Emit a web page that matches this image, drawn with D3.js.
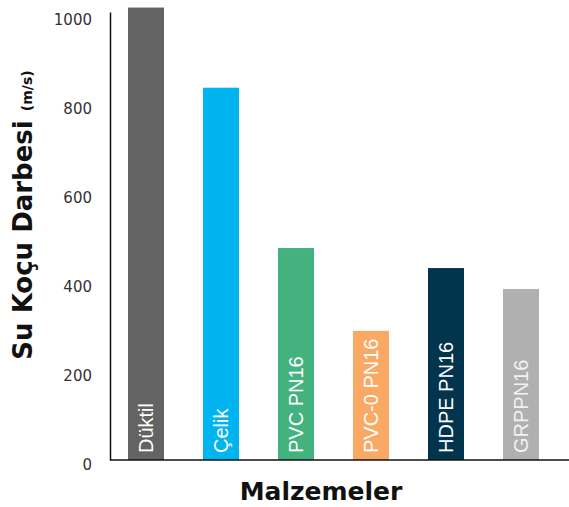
<!DOCTYPE html>
<html>
<head>
<meta charset="utf-8">
<script src="https://cdn.jsdelivr.net/npm/d3@7"></script>
<style>
  html, body { margin: 0; padding: 0; background: #fff; }
  svg { display: block; }
</style>
</head>
<body>
<svg id="chart" width="569" height="507"></svg>
<script>
const categories = ["Düktil", "Çelik", "PVC PN16", "PVC-0 PN16", "HDPE PN16", "GRPPN16"];
const values = [1016, 836, 476, 290, 431, 384];
const colors = ["#636363", "#00b5ef", "#43b27f", "#f9a964", "#03344e", "#b0b0b0"];
const tickValues = [0, 200, 400, 600, 800, 1000];
const yTitle = "Su Koçu Darbesi";
const yUnit = "(m/s)";
const xTitle = "Malzemeler";

const svg = d3.select("#chart");

const x = d3.scaleBand()
  .domain(categories)
  .range([108.5, 558.5])
  .paddingInner(0.52)
  .paddingOuter(0.26);

const y = d3.scaleLinear()
  .domain([0, 1006])
  .range([460, 12]);

// bars
svg.append("g").selectAll("rect")
  .data(categories)
  .join("rect")
  .attr("x", d => x(d))
  .attr("width", x.bandwidth())
  .attr("y", (d, i) => y(values[i]))
  .attr("height", (d, i) => y(0) - y(values[i]))
  .attr("fill", (d, i) => colors[i]);

// bar labels
svg.append("g").selectAll("text")
  .data(categories)
  .join("text")
  .attr("transform", d => `translate(${x(d) + x.bandwidth() / 2 + 7},${y(0) - 7}) rotate(-90)`)
  .attr("text-anchor", "start")
  .attr("font-family", "'Liberation Sans', Arial, sans-serif")
  .attr("font-size", 20)
  .attr("fill", (d, i) => i === 5 ? "#f2f2f2" : "#ffffff")
  .text(d => d);

// y axis
const yAxis = svg.append("g")
  .attr("transform", "translate(110,0)")
  .call(d3.axisLeft(y).tickValues(tickValues).tickSize(0).tickSizeOuter(0).tickPadding(18).tickFormat(d3.format("d")));
yAxis.select(".domain").attr("stroke", "#111").attr("stroke-width", 1.5);
yAxis.selectAll("text")
  .attr("font-family", "'DejaVu Sans', sans-serif")
  .attr("font-size", 15)
  .attr("fill", "#333")
  .attr("dy", "0.65em");

// x axis line
const xAxis = svg.append("g")
  .attr("transform", `translate(0,${y(0)})`);
xAxis.append("line")
  .attr("x1", 110).attr("x2", 569)
  .attr("y1", 0).attr("y2", 0)
  .attr("stroke", "#111").attr("stroke-width", 1.5);

// y title
const yt = svg.append("text")
  .attr("transform", "translate(32,215) rotate(-90)")
  .attr("text-anchor", "middle")
  .attr("font-family", "'DejaVu Sans', sans-serif")
  .attr("font-weight", "bold")
  .attr("fill", "#111");
yt.append("tspan").attr("font-size", 26).text(yTitle + " ");
yt.append("tspan").attr("font-size", 14).text(yUnit);

// x title
svg.append("text")
  .attr("x", 321)
  .attr("y", 500)
  .attr("text-anchor", "middle")
  .attr("font-family", "'DejaVu Sans', sans-serif")
  .attr("font-weight", "bold")
  .attr("font-size", 25)
  .attr("fill", "#111")
  .text(xTitle);
</script>
</body>
</html>
